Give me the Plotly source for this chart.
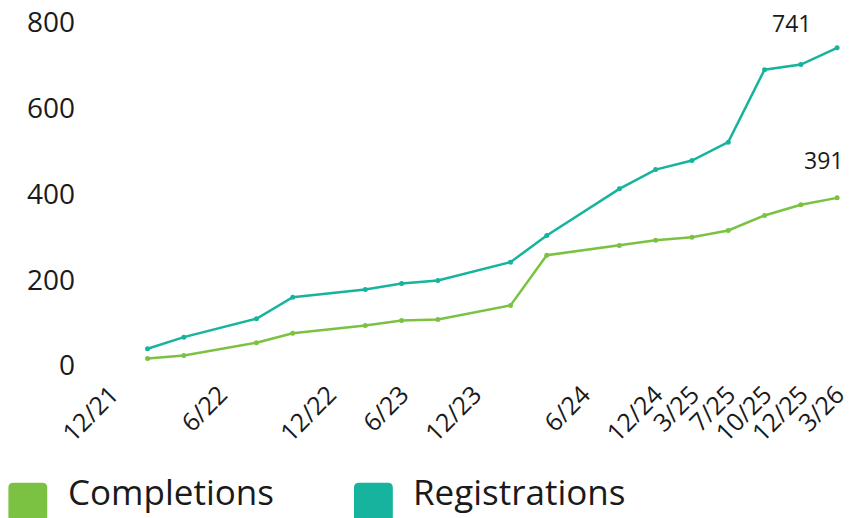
import plotly.graph_objects as go

# ---- data ----
point_pos = [0, 1, 3, 4, 6, 7, 8, 10, 11, 13, 14, 15, 16, 17, 18, 19]
registrations = [39, 66, 109, 159, 177, 191, 198, 241, 303, 412, 457, 478, 521, 690, 702, 741]
completions = [16, 23, 53, 75, 93, 105, 107, 140, 257, 280, 292, 299, 315, 350, 375, 391]
tick_pos = [-1, 2, 5, 7, 9, 12, 14, 15, 16, 17, 18, 19]
tick_labels = ["12/21", "6/22", "12/22", "6/23", "12/23", "6/24",
               "12/24", "3/25", "7/25", "10/25", "12/25", "3/26"]
series_names = ["Completions", "Registrations"]

GREEN = "#7cc242"
TEAL = "#16b49e"
TEXT = "#1a1a1a"
FONT = "Open Sans"

W, H = 853, 518
ML, MR, MT, MB = 104, 2, 13, 144

fig = go.Figure()
fig.add_trace(go.Scatter(x=point_pos, y=completions, mode="lines+markers",
                         name=series_names[0], line=dict(color=GREEN, width=2.5),
                         marker=dict(size=5, color=GREEN), showlegend=False))
fig.add_trace(go.Scatter(x=point_pos, y=registrations, mode="lines+markers",
                         name=series_names[1], line=dict(color=TEAL, width=2.5),
                         marker=dict(size=5, color=TEAL), showlegend=False))

# end-value labels
fig.add_annotation(x=point_pos[-1], y=registrations[-1], text=str(registrations[-1]),
                   showarrow=False, xanchor="right", yanchor="middle",
                   xshift=-24, yshift=25, font=dict(size=23, color=TEXT, family=FONT))
fig.add_annotation(x=point_pos[-1], y=completions[-1], text=str(completions[-1]),
                   showarrow=False, xanchor="right", yanchor="middle",
                   xshift=8, yshift=38, font=dict(size=23, color=TEXT, family=FONT))

# manual legend (large rounded swatches)
pw = W - ML - MR
ph = H - MT - MB

def px_x(p):
    return (p - ML) / pw

def px_y(p):
    return (H - MB - p) / ph

def rounded(x0, y0, x1, y1, r):
    X0, X1 = px_x(x0), px_x(x1)
    Y0, Y1 = px_y(y0), px_y(y1)
    rx = r / pw
    ry = r / ph
    return (f"M{X0+rx},{Y0} L{X1-rx},{Y0} Q{X1},{Y0} {X1},{Y0-ry} "
            f"L{X1},{Y1+ry} Q{X1},{Y1} {X1-rx},{Y1} L{X0+rx},{Y1} "
            f"Q{X0},{Y1} {X0},{Y1+ry} L{X0},{Y0-ry} Q{X0},{Y0} {X0+rx},{Y0} Z")

legend_items = [(8, 47, 66, GREEN), (355, 394, 412, TEAL)]
for (sx0, sx1, tx, col), name in zip(legend_items, series_names):
    fig.add_shape(type="path", xref="paper", yref="paper",
                  path=rounded(sx0, 483, sx1, 522, 5),
                  fillcolor=col, line=dict(width=0))
    fig.add_annotation(xref="paper", yref="paper", x=px_x(tx), y=px_y(517),
                       text=name, showarrow=False, xanchor="left", yanchor="bottom",
                       font=dict(size=35, color=TEXT, family=FONT))

fig.update_layout(
    width=W, height=H, autosize=False,
    margin=dict(l=ML, r=MR, t=MT, b=MB, pad=0),
    paper_bgcolor="white", plot_bgcolor="white",
    font=dict(family=FONT, color=TEXT),
    showlegend=False,
)
fig.update_xaxes(range=[-1.2, 19.3], tickmode="array", tickvals=tick_pos,
                 ticktext=tick_labels, tickangle=-45, showgrid=False,
                 zeroline=False, showline=False, ticks="",
                 ticklabeloverflow="allow",
                 tickfont=dict(size=25, color=TEXT, family=FONT))
fig.update_yaxes(range=[-20, 820], tickmode="array", tickvals=[0, 200, 400, 600, 800],
                 showgrid=False, zeroline=False, showline=False, ticks="",
                 ticklabelstandoff=28,
                 tickfont=dict(size=28, color=TEXT, family=FONT))

fig.write_html("out.html", config={"displayModeBar": False})
